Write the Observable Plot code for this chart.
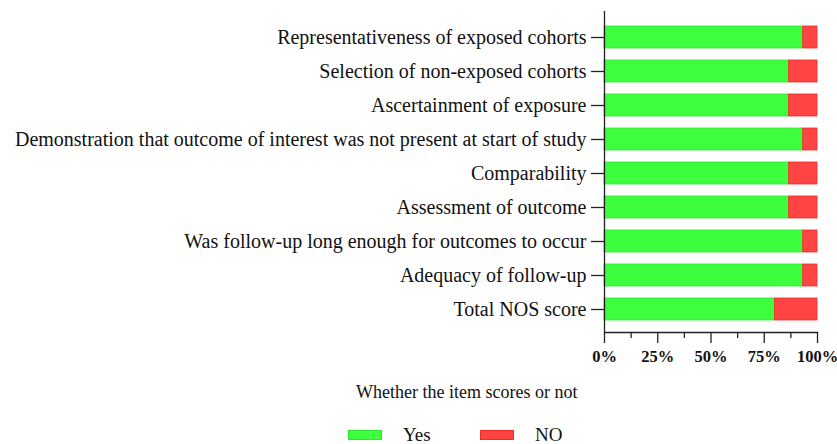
<!DOCTYPE html>
<html>
<head>
<meta charset="utf-8">
<script src="https://cdn.jsdelivr.net/npm/d3@7"></script>
<script src="https://cdn.jsdelivr.net/npm/@observablehq/plot@0.6"></script>
<style>
  html, body { margin: 0; padding: 0; background: #fff; }
  #wrap { position: relative; width: 837px; height: 444px; overflow: hidden; font-family: "Liberation Serif", "DejaVu Serif", serif; }
  #chart { position: absolute; left: 0; top: 0; }
  .title { position: absolute; left: 356px; top: 381px; font-size: 18px; color: #111; white-space: nowrap; line-height: 22px; }
  .leg { position: absolute; top: 424px; font-size: 19px; color: #111; white-space: nowrap; display: flex; align-items: center; line-height: 22px; }
  .sw { display: inline-block; width: 34px; height: 10px; margin-right: 21px; box-sizing: border-box; }
</style>
</head>
<body>
<div id="wrap">
  <div id="chart"></div>
  <div class="title">Whether the item scores or not</div>
  <div class="leg" style="left:348px"><span class="sw" style="background:#3dff3d;border:1px solid #2ee82e"></span>Yes</div>
  <div class="leg" style="left:480px"><span class="sw" style="background:#ff4444;border:1px solid #f02a2a"></span>NO</div>
</div>
<script>
const categories = [
  "Representativeness of exposed cohorts",
  "Selection of non-exposed cohorts",
  "Ascertainment of exposure",
  "Demonstration that outcome of interest was not present at start of study",
  "Comparability",
  "Assessment of outcome",
  "Was follow-up long enough for outcomes to occur",
  "Adequacy of follow-up",
  "Total NOS score"
];
const yesValues = [93.3, 86.7, 86.7, 93.3, 86.7, 86.7, 93.3, 93.3, 80.0];
const noValues  = [6.7, 13.3, 13.3, 6.7, 13.3, 13.3, 6.7, 6.7, 20.0];
const seriesNames = ["Yes", "NO"];
const xTicks = [0, 25, 50, 75, 100];
const xMinorTicks = [12.5, 37.5, 62.5, 87.5];

const rows = [];
categories.forEach((c, i) => {
  rows.push({category: c, answer: seriesNames[0], value: yesValues[i]});
  rows.push({category: c, answer: seriesNames[1], value: noValues[i]});
});

const chart = Plot.plot({
  width: 837,
  height: 444,
  marginLeft: 604,
  marginRight: 20,
  marginTop: 11,
  marginBottom: 112,
  style: {fontFamily: "'Liberation Serif', serif", color: "#111", background: "#fff"},
  x: {domain: [0, 100]},
  y: {domain: categories, paddingInner: 0.35, paddingOuter: 0.175, insetTop: 7.5, insetBottom: 5},
  color: {domain: seriesNames, range: ["#3dff3d", "#ff4444"]},
  marks: [
    Plot.barX(rows, Plot.stackX({
      x: "value", y: "category", fill: "answer",
      order: seriesNames,
      stroke: d => d.answer === "Yes" ? "#2ee82e" : "#f02a2a",
      strokeWidth: 0.8
    })),
    Plot.ruleX([0], {stroke: "#222", strokeWidth: 1.3}),
    Plot.frame({anchor: "bottom", stroke: "#222", strokeWidth: 1.3}),
    Plot.axisY({
      anchor: "left", tickSize: 13, tickPadding: 5, label: null,
      fontSize: 20, strokeWidth: 1.3, stroke: "#222"
    }),
    Plot.axisX({
      anchor: "bottom", ticks: xTicks, tickSize: 11, tickPadding: 7, label: null,
      tickFormat: d => d + "%", fontSize: 16.5, fontWeight: "bold",
      strokeWidth: 1.3, stroke: "#222"
    }),
    Plot.axisX({
      anchor: "bottom", ticks: xMinorTicks, tickSize: 6, label: null,
      tickFormat: () => "", strokeWidth: 1.3, stroke: "#222"
    })
  ]
});
document.getElementById("chart").appendChild(chart);
</script>
</body>
</html>
